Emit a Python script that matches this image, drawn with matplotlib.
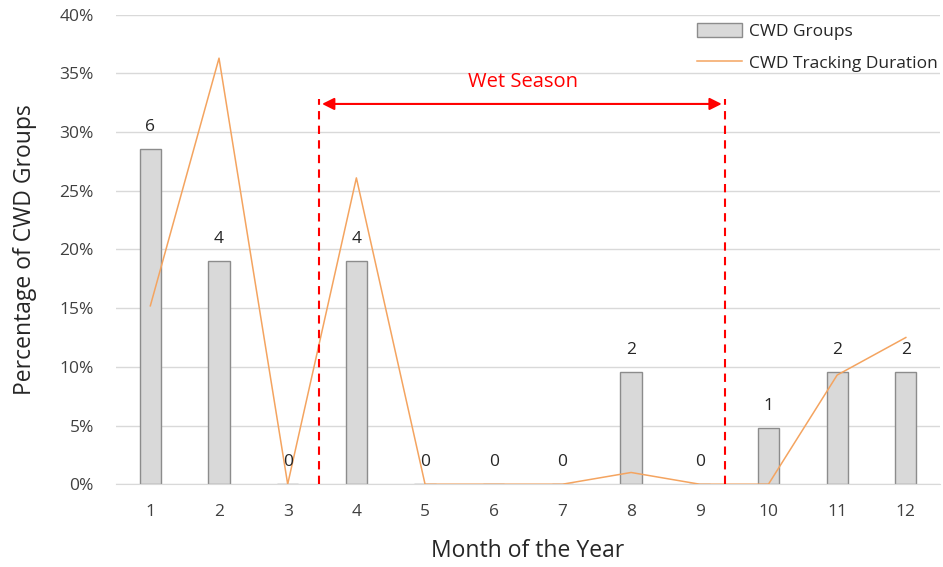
import matplotlib
matplotlib.use('Agg')
import matplotlib.pyplot as plt
from matplotlib.ticker import PercentFormatter

plt.rcParams['font.family'] = ['Open Sans', 'DejaVu Sans']

months = [1, 2, 3, 4, 5, 6, 7, 8, 9, 10, 11, 12]
group_counts = [6, 4, 0, 4, 0, 0, 0, 2, 0, 1, 2, 2]
group_pct = [c / 21 * 100 for c in group_counts]
duration_pct = [15.2, 36.3, 0, 26.1, 0, 0, 0, 1.0, 0, 0, 9.3, 12.5]

fig = plt.figure(figsize=(9.43, 5.67), dpi=100)
ax = fig.add_axes([0.123, 0.146, 0.874, 0.828])

bars = ax.bar(months, group_pct, width=0.31, color='#d9d9d9', edgecolor='#8c8c8c',
              linewidth=1, label='CWD Groups', zorder=2)
line, = ax.plot(months, duration_pct, color='#f4a460', linewidth=1.1,
                label='CWD Tracking Duration', zorder=3)

for m, p, c in zip(months, group_pct, group_counts):
    ax.text(m, p + 1.2, str(c), ha='center', va='bottom', fontsize=12.5,
            color='#262626', zorder=4)

# wet season markers
ax.plot([3.45, 3.45], [0, 32.8], color='red', linestyle=(0, (4, 3)), linewidth=1.5, zorder=4)
ax.plot([9.37, 9.37], [0, 32.8], color='red', linestyle=(0, (4, 3)), linewidth=1.5, zorder=4)
ax.annotate('', xy=(3.5, 32.4), xytext=(9.32, 32.4),
            arrowprops=dict(arrowstyle='<|-|>', color='red', lw=1.5,
                            mutation_scale=18, shrinkA=0, shrinkB=0), zorder=4)
ax.text(6.42, 34.3, 'Wet Season', color='red', ha='center', va='center', fontsize=14.5)

ax.set_xlim(0.5, 12.5)
ax.set_ylim(0, 40)
ax.set_xticks(months)
ax.set_yticks(range(0, 41, 5))
ax.yaxis.set_major_formatter(PercentFormatter(decimals=0))
ax.grid(axis='y', color='#d9d9d9', linewidth=1, zorder=0)
ax.set_axisbelow(True)
for s in ['top', 'right', 'left']:
    ax.spines[s].set_visible(False)
ax.spines['bottom'].set_color('#d9d9d9')
ax.tick_params(axis='both', length=0, labelsize=12.5, labelcolor='#404040')
ax.tick_params(axis='x', pad=14)
ax.tick_params(axis='y', pad=16)

ax.set_xlabel('Month of the Year', fontsize=16.5, color='#262626', labelpad=14)
ax.set_ylabel('Percentage of CWD Groups', fontsize=16.5, color='#262626', labelpad=16)

ax.legend([bars, line], ['CWD Groups', 'CWD Tracking Duration'],
          loc='upper right', bbox_to_anchor=(1.01, 1.005), frameon=False,
          fontsize=12.5, handlelength=2.6, handleheight=0.9, labelspacing=0.85,
          handletextpad=0.4, borderaxespad=0.2, labelcolor='#262626')

plt.savefig('out.png')
